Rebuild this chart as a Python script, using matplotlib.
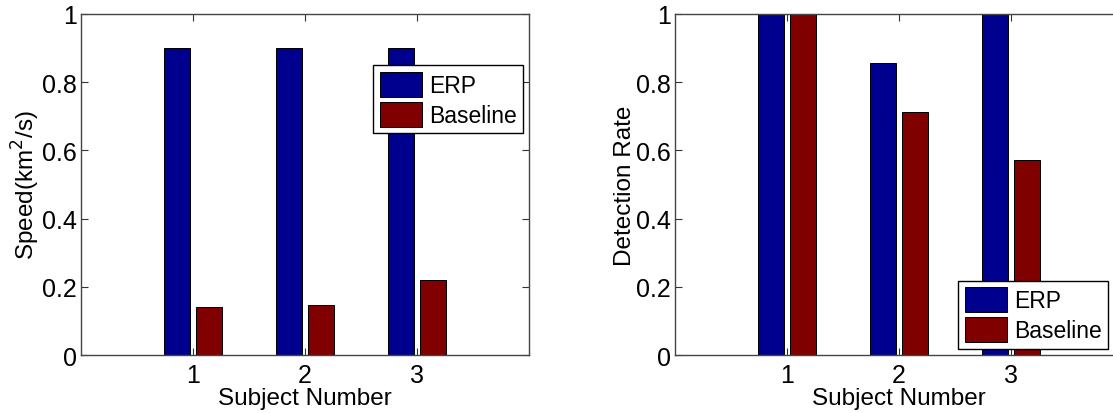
import numpy as np
import matplotlib
matplotlib.use("Agg")
import matplotlib.pyplot as plt

plt.rcParams['font.family'] = ['Liberation Sans', 'DejaVu Sans']

subjects = [1, 2, 3]
speed_erp = [0.90, 0.90, 0.90]
speed_base = [0.141, 0.148, 0.22]
det_erp = [1.0, 0.857, 1.0]
det_base = [1.0, 0.714, 0.571]
yticks = [0, 0.2, 0.4, 0.6, 0.8, 1]
ytick_labels = ['0', '0.2', '0.4', '0.6', '0.8', '1']

c_erp = '#00008f'
c_base = '#800000'
W, H = 1113, 414

fig = plt.figure(figsize=(W / 100, H / 100), dpi=100)
ax1 = fig.add_axes([81 / W, 1 - 356 / H, 448 / W, 341 / H])
ax2 = fig.add_axes([675 / W, 1 - 356 / H, 448 / W, 341 / H])

def draw(ax, erp, base, ylabel, leg_loc, leg_anchor):
    x = np.array(subjects)
    ax.bar(x - 0.14, erp, 0.235, color=c_erp, edgecolor='black', linewidth=0.7, label='ERP')
    ax.bar(x + 0.14, base, 0.235, color=c_base, edgecolor='black', linewidth=0.7, label='Baseline')
    ax.set_xlim(0, 4)
    ax.set_ylim(0, 1)
    ax.set_xticks(subjects)
    ax.set_yticks(yticks)
    ax.set_yticklabels(ytick_labels)
    ax.tick_params(direction='in', length=5, width=0.8, labelsize=18, top=True, right=True,
                   colors='#333333', labelcolor='black', pad=3)
    ax.tick_params(axis='x', pad=6)
    for s in ax.spines.values():
        s.set_color('#444444')
        s.set_linewidth(1.0)
    ax.set_xlabel('Subject Number', fontsize=17.5, labelpad=0)
    ax.set_ylabel(ylabel, fontsize=17.5, labelpad=0)
    leg = ax.legend(loc=leg_loc, bbox_to_anchor=leg_anchor, fontsize=16.5, fancybox=False,
                    edgecolor='black', framealpha=1, borderaxespad=0, borderpad=0.28,
                    handlelength=1.85, handleheight=1.3, handletextpad=0.3, labelspacing=0.22)
    leg.get_frame().set_linewidth(1.0)

draw(ax1, speed_erp, speed_base, 'Speed(km$^2$/s)', 'upper left', (0.652, 0.850))
draw(ax2, det_erp, det_base, 'Detection Rate', 'lower left', (0.632, 0.018))

fig.savefig('out.png', dpi=100)
